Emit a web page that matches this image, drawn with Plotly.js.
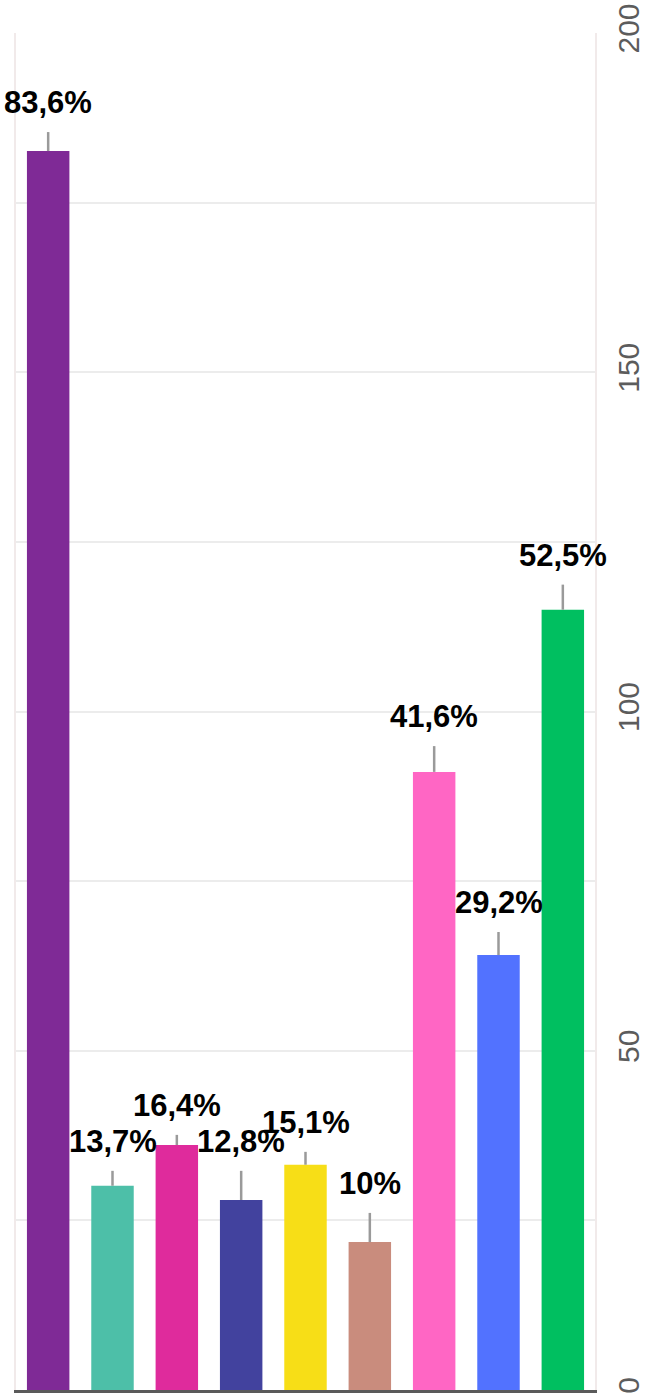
<!DOCTYPE html>
<html>
<head>
<meta charset="utf-8">
<script src="https://cdn.plot.ly/plotly-3.0.1.min.js"></script>
<style>
  html, body { margin: 0; padding: 0; background: #ffffff; }
  #chart { width: 645px; height: 1394px; }
</style>
</head>
<body>
<div id="chart"></div>
<script>
// Data
const categories = ["G1", "G2", "G3", "G4", "G5", "G6", "G7", "G8", "G9"];
const values = [182.6, 30.1, 36.1, 28.0, 33.2, 21.8, 91.1, 64.1, 115.0];
const errorsUp = [2.8, 2.2, 1.5, 4.3, 1.9, 4.3, 3.8, 3.4, 3.7];
const percentLabels = ["83,6%", "13,7%", "16,4%", "12,8%", "15,1%", "10%", "41,6%", "29,2%", "52,5%"];
const barColors = ["#7F2A96", "#4DBFA8", "#DF2B9C", "#42429E", "#F7DE17", "#C98C7D", "#FF66C4", "#5272FF", "#00BF60"];
const yTickValues = [0, 50, 100, 150, 200];

const trace = {
  type: "bar",
  x: categories,
  y: values,
  width: 0.66,
  marker: { color: barColors, line: { width: 0 } },
  error_y: {
    type: "data",
    symmetric: false,
    array: errorsUp,
    arrayminus: errorsUp.map(() => 0),
    color: "#9a9a9a",
    thickness: 2.5,
    width: 0
  },
  hoverinfo: "none"
};

const annotations = categories.map((c, i) => ({
  x: c,
  y: values[i] + errorsUp[i],
  xref: "x",
  yref: "y",
  text: "<b>" + percentLabels[i] + "</b>",
  showarrow: false,
  yanchor: "bottom",
  xanchor: "center",
  yshift: 10,
  font: { family: "Liberation Sans, Arial, sans-serif", size: 31, color: "#000000" }
}));

const layout = {
  width: 645,
  height: 1394,
  margin: { l: 16, r: 50, t: 33, b: 4, pad: 0 },
  paper_bgcolor: "#ffffff",
  plot_bgcolor: "#ffffff",
  showlegend: false,
  xaxis: {
    type: "category",
    range: [-0.5, 8.5],
    showticklabels: false,
    ticks: "",
    showgrid: false,
    zeroline: false,
    showline: true,
    linecolor: "#5a5a5a",
    linewidth: 3,
    layer: "below traces",
    fixedrange: true
  },
  yaxis: {
    side: "right",
    range: [0, 200],
    tickvals: yTickValues,
    ticktext: yTickValues.map(String),
    tickangle: -90,
    ticks: "",
    ticklabelstandoff: 6,
    tickfont: { family: "Liberation Sans, Arial, sans-serif", size: 30, color: "#5c5c5c" },
    showgrid: true,
    gridcolor: "#ececec",
    gridwidth: 2,
    minor: { dtick: 25, showgrid: true, gridcolor: "#ececec", gridwidth: 2 },
    zeroline: false,
    showline: true,
    mirror: true,
    linecolor: "#f1eaea",
    linewidth: 2,
    fixedrange: true
  },
  annotations: annotations
};

Plotly.newPlot("chart", [trace], layout, { displayModeBar: false, staticPlot: true });
</script>
</body>
</html>
